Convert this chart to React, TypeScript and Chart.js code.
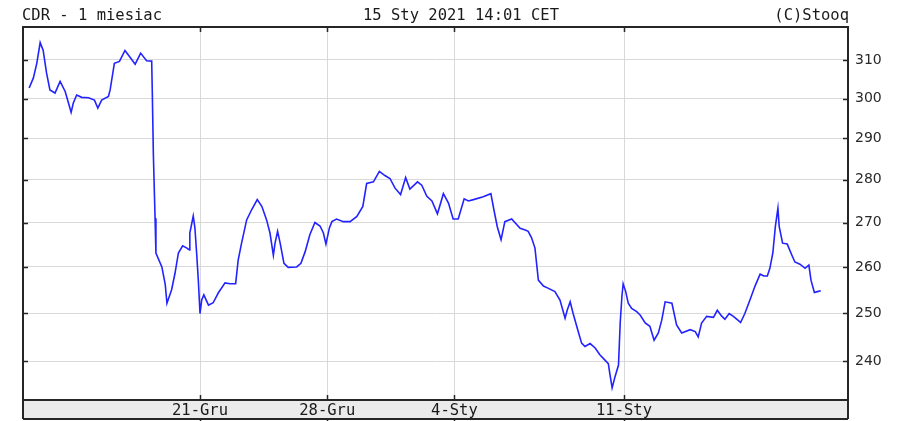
import React, { useEffect, useRef } from 'react';
import { Chart, registerables } from 'chart.js';

Chart.register(...registerables);

const TITLE_LEFT = 'CDR - 1 miesiac';
const TITLE_CENTER = '15 Sty 2021 14:01 CET';
const TITLE_RIGHT = '(C)Stooq';

// x axis: trading sessions counted from 15 Dec 2020 (0 = session start)
const xTickDays = [4, 7, 10, 14];
const xTickLabels = ['21-Gru', '28-Gru', '4-Sty', '11-Sty'];
const xMin = -0.175;
const xMax = 19.283;

const yTicks = [240, 250, 260, 270, 280, 290, 300, 310];
const yMin = 232.2;
const yMax = 318.8;

const sessionTime = [
  -0.03, 0.07, 0.15, 0.23, 0.3, 0.38, 0.46, 0.58, 0.7, 0.82, 0.96, 1.01, 1.09, 1.21, 1.37, 1.51, 1.59, 1.68,
  1.84, 1.88, 1.98, 2.1, 2.23, 2.31, 2.47, 2.6, 2.74, 2.86, 2.875, 2.9, 2.94, 2.96, 3.1, 3.18, 3.22, 3.33,
  3.41, 3.49, 3.59, 3.69, 3.75, 3.76, 3.84, 3.88, 3.92, 3.96, 4.0, 4.04, 4.09, 4.2, 4.31, 4.43, 4.59, 4.71,
  4.84, 4.9, 4.98, 5.1, 5.22, 5.35, 5.46, 5.57, 5.65, 5.73, 5.77, 5.83, 5.89, 5.98, 6.08, 6.28, 6.38, 6.48,
  6.59, 6.71, 6.83, 6.91, 6.97, 7.05, 7.11, 7.22, 7.38, 7.54, 7.7, 7.84, 7.93, 8.09, 8.23, 8.36, 8.48, 8.6,
  8.73, 8.85, 8.95, 9.13, 9.23, 9.35, 9.47, 9.6, 9.74, 9.86, 9.97, 10.09, 10.23, 10.33, 10.45, 10.68, 10.86,
  10.93, 11.01, 11.1, 11.19, 11.35, 11.55, 11.67, 11.74, 11.82, 11.9, 11.98, 12.1, 12.22, 12.37, 12.49,
  12.61, 12.66, 12.73, 12.8, 12.92, 13.0, 13.08, 13.2, 13.32, 13.43, 13.55, 13.63, 13.67, 13.72, 13.79,
  13.87, 13.91, 13.95, 13.98, 14.04, 14.1, 14.18, 14.3, 14.38, 14.5, 14.61, 14.71, 14.81, 14.89, 14.97,
  15.13, 15.24, 15.36, 15.56, 15.68, 15.75, 15.83, 15.95, 16.11, 16.2, 16.3, 16.38, 16.48, 16.58, 16.7,
  16.75, 16.85, 16.97, 17.09, 17.21, 17.3, 17.38, 17.44, 17.51, 17.57, 17.63, 17.66, 17.74, 17.85, 17.96,
  18.03, 18.15, 18.27, 18.36, 18.41, 18.49, 18.56, 18.64,
];

const prices = [
  302.7, 305.3, 309.1, 314.6, 312.6, 306.6, 302.2, 301.4, 304.4, 301.8, 296.5, 298.8, 300.9, 300.3, 300.2,
  299.6, 297.6, 299.6, 300.5, 302.2, 309.1, 309.6, 312.5, 311.3, 308.9, 311.8, 309.8, 309.7, 301.4, 286.0,
  271.0, 263.1, 260.0, 256.1, 252.1, 255.0, 258.6, 263.1, 264.7, 264.2, 263.8, 267.6, 271.5, 268.7, 263.1,
  257.1, 249.9, 252.8, 253.9, 251.7, 252.2, 254.3, 256.5, 256.3, 256.3, 261.5, 265.3, 270.6, 273.0, 275.3,
  273.7, 270.6, 267.6, 262.6, 265.3, 268.0, 265.3, 260.8, 259.9, 260.0, 260.8, 263.4, 267.2, 270.0, 269.2,
  267.6, 265.1, 268.7, 270.2, 270.8, 270.2, 270.2, 271.4, 273.7, 279.1, 279.5, 282.0, 281.0, 280.3, 278.0,
  276.5, 280.5, 277.8, 279.5, 278.7, 276.1, 275.0, 272.0, 276.7, 274.5, 270.8, 270.8, 275.5, 275.0, 275.3,
  276.0, 276.7, 273.0, 269.1, 266.1, 270.2, 270.8, 268.7, 268.3, 268.0, 266.5, 264.2, 257.1, 255.8, 255.3,
  254.6, 252.8, 248.9, 250.6, 252.4, 249.9, 246.1, 243.7, 243.0, 243.6, 242.7, 241.3, 240.2, 239.5, 237.2,
  234.6, 236.9, 239.2, 247.9, 253.5, 256.3, 254.6, 252.1, 251.0, 250.3, 249.6, 247.9, 247.2, 244.3, 245.8,
  248.5, 252.4, 252.1, 247.5, 245.8, 246.5, 246.1, 245.0, 247.9, 249.3, 249.1, 250.6, 249.4, 248.7, 249.9,
  249.3, 248.4, 248.0, 249.9, 252.8, 255.8, 258.4, 258.0, 258.0, 259.7, 263.1, 269.1, 273.3, 269.1, 265.3,
  265.1, 262.6, 261.1, 260.6, 259.7, 260.4, 257.1, 254.4, 254.6, 254.8,
];

const MONO = "'DejaVu Sans Mono', monospace";
const BAND_H = 19;

const stooqFrame = {
  id: 'stooqFrame',
  beforeDraw(chart: any) {
    const { ctx, chartArea: a } = chart;
    ctx.save();
    ctx.fillStyle = '#ffffff';
    ctx.fillRect(0, 0, chart.width, chart.height);
    ctx.fillStyle = '#ebebeb';
    ctx.fillRect(a.left, a.bottom, a.right - a.left, BAND_H);
    ctx.restore();
  },
  afterDraw(chart: any) {
    const { ctx, chartArea: a, scales } = chart;
    ctx.save();
    ctx.strokeStyle = '#262626';
    ctx.lineWidth = 2;
    ctx.strokeRect(a.left, a.top, a.right - a.left, a.bottom - a.top);
    ctx.beginPath();
    ctx.moveTo(a.left, a.bottom + BAND_H);
    ctx.lineTo(a.right, a.bottom + BAND_H);
    ctx.moveTo(a.left, a.bottom);
    ctx.lineTo(a.left, a.bottom + BAND_H);
    ctx.moveTo(a.right, a.bottom);
    ctx.lineTo(a.right, a.bottom + BAND_H);
    ctx.stroke();

    ctx.lineWidth = 1.5;
    ctx.beginPath();
    for (const v of yTicks) {
      const y = Math.round(scales.y.getPixelForValue(v)) + 0.5;
      ctx.moveTo(a.left, y);
      ctx.lineTo(a.left + 5, y);
      ctx.moveTo(a.right - 5, y);
      ctx.lineTo(a.right, y);
    }
    for (const v of xTickDays) {
      const x = Math.round(scales.x.getPixelForValue(v)) + 0.5;
      ctx.moveTo(x, a.top);
      ctx.lineTo(x, a.top + 5);
      ctx.moveTo(x, a.bottom - 5);
      ctx.lineTo(x, a.bottom);
      ctx.moveTo(x, a.bottom + BAND_H);
      ctx.lineTo(x, chart.height);
    }
    ctx.stroke();

    ctx.fillStyle = '#1a1a1a';
    ctx.font = `15.5px ${MONO}`;
    ctx.textBaseline = 'alphabetic';
    ctx.textAlign = 'left';
    ctx.fillText(TITLE_LEFT, a.left - 1, 20);
    ctx.textAlign = 'center';
    ctx.fillText(TITLE_CENTER, 461, 20);
    ctx.textAlign = 'right';
    ctx.fillText(TITLE_RIGHT, a.right + 1, 20);
    ctx.restore();
  },
};

export default function App() {
  const ref = useRef<HTMLCanvasElement>(null);

  useEffect(() => {
    document.body.style.margin = '0';
    const data = sessionTime.map((t, i) => ({ x: t, y: prices[i] }));
    const chart = new Chart(ref.current as HTMLCanvasElement, {
      type: 'line',
      data: {
        datasets: [
          {
            data,
            borderColor: '#2323ff',
            borderWidth: 1.6,
            pointRadius: 0,
            tension: 0,
            fill: false,
          },
        ],
      },
      options: {
        responsive: false,
        animation: false,
        events: [],
        layout: { padding: { left: 23, top: 27, right: 0, bottom: 0 } },
        plugins: { legend: { display: false }, tooltip: { enabled: false }, title: { display: false } },
        scales: {
          x: {
            type: 'linear',
            position: 'bottom',
            min: xMin,
            max: xMax,
            afterBuildTicks: (s: any) => {
              s.ticks = xTickDays.map((v) => ({ value: v }));
            },
            afterFit: (s: any) => {
              s.height = 21;
            },
            grid: { color: '#d9d9d9', lineWidth: 1, drawTicks: false },
            border: { display: false },
            ticks: {
              autoSkip: false,
              maxRotation: 0,
              padding: 2,
              color: '#1a1a1a',
              font: { family: MONO, size: 15.5 },
              callback: (_v: any, i: number) => xTickLabels[i],
            },
          },
          y: {
            type: 'logarithmic',
            position: 'right',
            min: yMin,
            max: yMax,
            afterBuildTicks: (s: any) => {
              s.ticks = yTicks.map((v) => ({ value: v }));
            },
            afterFit: (s: any) => {
              s.width = 54;
            },
            grid: { color: '#d9d9d9', lineWidth: 1, drawTicks: false },
            border: { display: false },
            ticks: {
              autoSkip: false,
              padding: 7,
              color: '#2a2a2a',
              font: { family: "'DejaVu Sans', sans-serif", size: 14 },
              callback: (v: any) => String(v),
            },
          },
        },
      },
      plugins: [stooqFrame],
    });
    return () => chart.destroy();
  }, []);

  return (
    <div style={{ width: 902, height: 421 }}>
      <canvas ref={ref} width={902} height={421} style={{ display: 'block', width: 902, height: 421 }} />
    </div>
  );
}
